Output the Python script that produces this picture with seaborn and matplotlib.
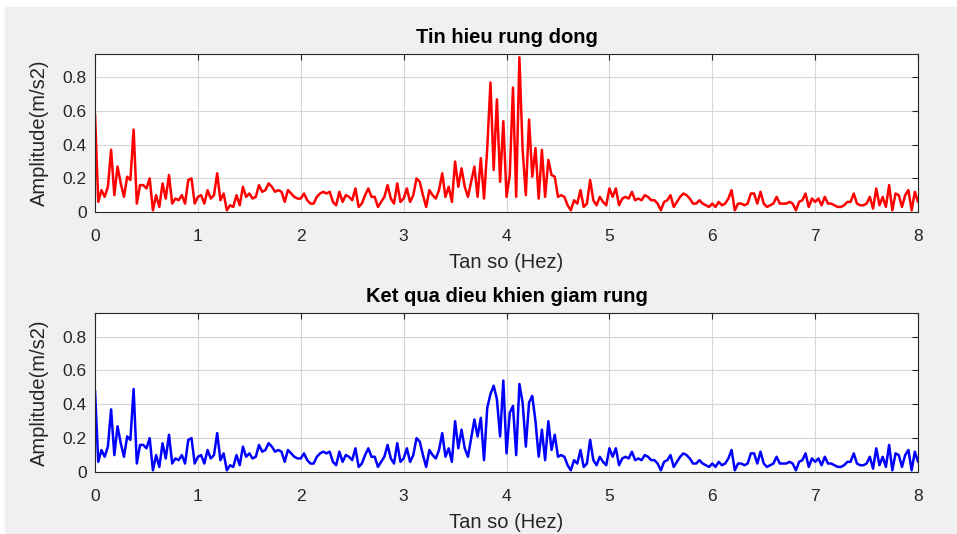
import numpy as np
import pandas as pd
import seaborn as sns
import matplotlib.pyplot as plt
from matplotlib.patches import Rectangle

red_start = 0.58
blue_start = 0.48

# 0.03 .. 3.28 Hz, same in both panels
amp_low = [
    0.06, 0.13, 0.09, 0.15, 0.37, 0.10, 0.27, 0.17, 0.09, 0.21,
    0.19, 0.49, 0.05, 0.16, 0.16, 0.14, 0.20, 0.01, 0.10, 0.03,
    0.17, 0.08, 0.22, 0.05, 0.08, 0.07, 0.10, 0.05, 0.19, 0.20, 0.05,
    0.09, 0.10, 0.05, 0.13, 0.08, 0.10, 0.23, 0.07, 0.11, 0.01,
    0.04, 0.03, 0.10, 0.04, 0.15, 0.09, 0.11, 0.08, 0.09, 0.16,
    0.12, 0.13, 0.17, 0.15, 0.12, 0.13, 0.12, 0.06, 0.13, 0.11,
    0.09, 0.08,
    0.08, 0.11, 0.07, 0.05, 0.05, 0.09, 0.11, 0.12, 0.11, 0.12,
    0.06, 0.04, 0.12, 0.06, 0.10, 0.09, 0.07, 0.14, 0.03, 0.05,
    0.10, 0.14, 0.09, 0.09, 0.03, 0.06, 0.09, 0.16, 0.08, 0.05,
    0.17, 0.06,
    0.08, 0.14, 0.06, 0.10, 0.20, 0.18, 0.10, 0.03, 0.13, 0.10,
]

# 3.31 .. 4.5 Hz
red_peak = [
    0.08, 0.13, 0.23, 0.09, 0.15, 0.06, 0.30, 0.15, 0.26, 0.15,
    0.09, 0.18, 0.27, 0.09, 0.32, 0.08, 0.38, 0.77, 0.25, 0.67,
    0.18, 0.54, 0.09, 0.22, 0.74, 0.09, 0.92, 0.37, 0.10, 0.55,
    0.21, 0.38, 0.08, 0.37, 0.09, 0.31, 0.22, 0.21, 0.09,
]
blue_peak = [
    0.08, 0.13, 0.23, 0.09, 0.14, 0.06, 0.30, 0.14, 0.25, 0.14,
    0.09, 0.20, 0.31, 0.21, 0.32, 0.07, 0.38, 0.46, 0.51, 0.43,
    0.21, 0.54, 0.11, 0.35, 0.39, 0.10, 0.52, 0.41, 0.15, 0.41,
    0.45, 0.30, 0.09, 0.25, 0.07, 0.30, 0.13, 0.22, 0.09,
]

# 4.53 .. 8 Hz, same in both panels
amp_high = [
    0.10, 0.09, 0.04, 0.01, 0.07, 0.05, 0.13, 0.03, 0.05, 0.19,
    0.07, 0.04, 0.09, 0.06, 0.04, 0.14, 0.09, 0.14, 0.04, 0.08,
    0.09, 0.08, 0.12, 0.07, 0.08, 0.07, 0.10, 0.09, 0.07, 0.07,
    0.05, 0.01, 0.06, 0.07, 0.10, 0.03, 0.06, 0.09, 0.11, 0.10,
    0.08, 0.05, 0.05, 0.07, 0.05, 0.04, 0.03,
    0.05, 0.03, 0.06, 0.04, 0.05, 0.08, 0.13, 0.01, 0.05, 0.05,
    0.04, 0.05, 0.11, 0.11, 0.05, 0.12, 0.05, 0.03, 0.04, 0.05,
    0.09, 0.05, 0.05, 0.05, 0.06, 0.05, 0.01, 0.06, 0.07, 0.11,
    0.03, 0.08, 0.06, 0.08, 0.04, 0.09, 0.05, 0.05, 0.04, 0.03,
    0.03, 0.04, 0.06, 0.06, 0.11, 0.05, 0.04, 0.04, 0.05, 0.09,
    0.02, 0.14, 0.04, 0.09, 0.03, 0.16, 0.01, 0.11, 0.10, 0.03,
    0.10, 0.13, 0.01, 0.12, 0.06,
]

red = [red_start] + amp_low + red_peak + amp_high
blue = [blue_start] + amp_low + blue_peak + amp_high
freq = np.arange(len(red)) / 32

df = pd.DataFrame({'f': freq, 'red': red, 'blue': blue})

sns.set_style('white')
plt.rcParams['font.family'] = ['Liberation Sans', 'DejaVu Sans']

fig = plt.figure(figsize=(9.57, 5.34), dpi=100, facecolor='white')
fig.patches.append(Rectangle((5 / 957, 0), 1, 1 - 7 / 534, transform=fig.transFigure,
                             color='#f0f0f0', zorder=-10))

ax1 = fig.add_axes([0.0993, 0.603, 0.860, 0.296])
ax2 = fig.add_axes([0.0993, 0.1161, 0.860, 0.298])

dark = '#262626'


def style(ax, title):
    ax.set_facecolor('white')
    ax.set_xlim(0, 8)
    ax.set_ylim(0, 0.94)
    ax.set_xticks(range(9))
    ax.set_yticks([0, 0.2, 0.4, 0.6, 0.8])
    ax.set_yticklabels(['0', '0.2', '0.4', '0.6', '0.8'])
    ax.grid(True, color='#d6d6d6', lw=0.8)
    ax.set_axisbelow(True)
    ax.tick_params(direction='in', top=True, right=True, length=4, width=0.8,
                   labelsize=12.5, colors=dark)
    ax.tick_params(axis='x', pad=12)
    ax.tick_params(axis='y', pad=6)
    for s in ax.spines.values():
        s.set_color(dark)
        s.set_linewidth(0.8)
    ax.set_title(title, fontsize=14.5, fontweight='bold', pad=8, color='black')
    ax.set_xlabel('Tan so (Hez)', fontsize=14.5, color=dark, labelpad=7)
    ax.set_ylabel('Amplitude(m/s2)', fontsize=14.5, color=dark, labelpad=10)


sns.lineplot(data=df, x='f', y='red', ax=ax1, color='red', linewidth=1.8)
style(ax1, 'Tin hieu rung dong')

sns.lineplot(data=df, x='f', y='blue', ax=ax2, color='blue', linewidth=1.8)
style(ax2, 'Ket qua dieu khien giam rung')

fig.savefig('out.png', dpi=100, facecolor=fig.get_facecolor())
